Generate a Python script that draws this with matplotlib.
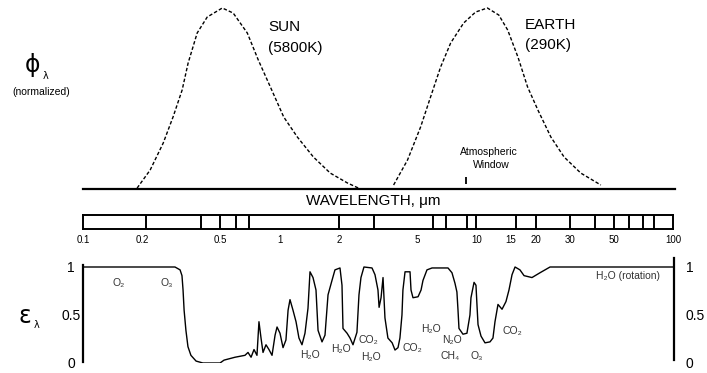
import matplotlib
matplotlib.use("Agg")
import matplotlib.pyplot as plt
from matplotlib.ticker import NullLocator, FixedLocator

plt.rcParams["font.family"] = ["Liberation Sans", "DejaVu Sans"]

W, H = 707, 373

# ---------------------------------------------------------------------------
# Data (wavelength in um)
# ---------------------------------------------------------------------------

sun_wl = [0.188, 0.219, 0.255, 0.286, 0.318, 0.341, 0.379, 0.426, 0.508, 0.577,
          0.680, 0.773, 0.890, 1.04, 1.22, 1.47, 1.79, 2.19, 2.49]
sun_phi = [0.005, 0.105, 0.254, 0.398, 0.547, 0.696, 0.862, 0.950, 1.0, 0.972,
           0.862, 0.713, 0.564, 0.398, 0.287, 0.177, 0.088, 0.033, 0.005]

earth_wl = [3.75, 4.41, 5.14, 5.77, 6.49, 7.30, 8.49, 9.77, 11.2, 12.8,
            14.2, 16.0, 17.9, 20.2, 23.5, 27.4, 33.3, 42.1]
earth_phi = [0.022, 0.160, 0.343, 0.508, 0.674, 0.807, 0.917, 0.978, 1.0, 0.961,
             0.878, 0.729, 0.564, 0.436, 0.287, 0.177, 0.088, 0.022]

window_wl = 8.7

band_edges = [0.21, 0.4, 0.5, 0.6, 0.7, 2, 3, 6, 7, 9, 10, 16, 20, 30, 40, 50, 60, 70, 80]
wl_ticks = [0.1, 0.2, 0.5, 1, 2, 5, 10, 15, 20, 30, 50, 100]
wl_tick_labels = ["0.1", "0.2", "0.5", "1", "2", "5", "10", "15", "20", "30", "50", "100"]

eps_wl = [0.1, 0.293, 0.311, 0.318, 0.322, 0.326, 0.333, 0.341, 0.353, 0.375,
          0.406, 0.496, 0.520, 0.591, 0.664, 0.688, 0.713, 0.738, 0.764, 0.782,
          0.801, 0.820, 0.849, 0.879, 0.911, 0.944, 0.966, 1.0, 1.036, 1.072,
          1.099, 1.124, 1.164, 1.206, 1.248, 1.293, 1.339, 1.387, 1.420, 1.471,
          1.523, 1.560, 1.634, 1.692, 1.753, 1.836, 1.901, 2.016, 2.064, 2.088,
          2.190, 2.267, 2.347, 2.458, 2.517, 2.576, 2.668, 2.931, 3.035, 3.143,
          3.184, 3.258, 3.334, 3.41, 3.53, 3.71, 3.835, 3.972, 4.062, 4.16,
          4.207, 4.312, 4.571, 4.624, 4.732, 5.02, 5.20, 5.318, 5.572, 5.913,
          7.125, 7.464, 7.731, 7.907, 8.009, 8.10, 8.488, 8.89, 9.209, 9.32,
          9.66, 9.88, 10.0, 10.12, 10.48, 10.98, 11.64, 12.05, 12.34, 12.78,
          13.40, 14.03, 14.53, 15.06, 15.60, 16.52, 17.33, 19.01, 20.88, 23.48,
          100]
eps_val = [1.0, 1.0, 0.97, 0.91, 0.76, 0.55, 0.34, 0.17, 0.08, 0.02,
           0.0, 0.0, 0.03, 0.06, 0.08, 0.11, 0.06, 0.14, 0.08, 0.43,
           0.26, 0.11, 0.19, 0.14, 0.08, 0.29, 0.375, 0.31, 0.16, 0.24,
           0.55, 0.66, 0.55, 0.43, 0.26, 0.19, 0.31, 0.57, 0.95, 0.89,
           0.76, 0.34, 0.22, 0.29, 0.71, 0.86, 0.97, 0.99, 0.81, 0.36,
           0.31, 0.26, 0.19, 0.32, 0.71, 0.89, 1.0, 0.99, 0.92, 0.76,
           0.58, 0.68, 0.89, 0.47, 0.26, 0.21, 0.135, 0.16, 0.26, 0.50,
           0.76, 0.95, 0.95, 0.76, 0.68, 0.69, 0.76, 0.86, 0.97, 0.99,
           0.99, 0.94, 0.83, 0.74, 0.55, 0.36, 0.30, 0.31, 0.50, 0.68,
           0.84, 0.81, 0.60, 0.40, 0.28, 0.21, 0.22, 0.26, 0.43, 0.61,
           0.56, 0.64, 0.76, 0.92, 1.0, 0.97, 0.91, 0.89, 0.94, 1.0,
           1.0]

gas_names = ["O₂", "O₃", "H₂O", "H₂O", "CO₂", "H₂O", "CO₂", "H₂O",
             "N₂O", "CH₄", "O₃", "CO₂", "H₂O (rotation)"]
gas_wl = [0.151, 0.267, 1.42, 2.04, 2.80, 2.90, 4.68, 5.84, 7.46, 7.30, 10.0, 15.06, 58.4]
gas_eps = [0.83, 0.83, 0.08, 0.15, 0.24, 0.06, 0.16, 0.35, 0.24, 0.07, 0.07, 0.33, 0.91]


def fig_xy(x, y):
    """Pixel position (from top-left) to figure fraction."""
    return x / W, 1 - y / H


fig = plt.figure(figsize=(W / 100, H / 100), dpi=100)

# ---------------------------------------------------------------------------
# Top: normalized blackbody curves
# ---------------------------------------------------------------------------
ax_top = fig.add_axes([83 / W, 1 - 189 / H, 592 / W, 190 / H])
ax_top.set_xscale("log")
ax_top.set_xlim(0.1, 100)
ax_top.set_ylim(0, 190 / 181)
ax_top.plot(sun_wl, sun_phi, color="black", lw=1.0, ls=(0, (2.5, 1.5)))
ax_top.plot(earth_wl, earth_phi, color="black", lw=1.0, ls=(0, (2.5, 1.5)))
ax_top.vlines(window_wl, 0.028, 0.066, color="black", lw=1.3)
for side in ["top", "right", "left"]:
    ax_top.spines[side].set_visible(False)
ax_top.spines["bottom"].set_linewidth(1.6)
ax_top.set_xticks([])
ax_top.xaxis.set_minor_locator(NullLocator())
ax_top.set_yticks([])

fig.text(*fig_xy(268, 27), "SUN", fontsize=11, va="center", ha="left")
fig.text(*fig_xy(268, 48), "(5800K)", fontsize=11, va="center", ha="left")
fig.text(*fig_xy(525, 25), "EARTH", fontsize=11, va="center", ha="left")
fig.text(*fig_xy(525, 45), "(290K)", fontsize=11, va="center", ha="left")
fig.text(*fig_xy(489, 152), "Atmospheric", fontsize=7.5, va="center", ha="center")
fig.text(*fig_xy(491, 165), "Window", fontsize=7.5, va="center", ha="center")

# phi_lambda label, upright glyph with a small subscript
fig.text(*fig_xy(33, 65), "ϕ", fontsize=17, va="center", ha="center",
         family="DejaVu Sans")
fig.text(*fig_xy(46, 76), "λ", fontsize=7, va="center", ha="center",
         family="DejaVu Sans")
fig.text(*fig_xy(41, 92), "(normalized)", fontsize=7.5, va="center", ha="center")

fig.text(*fig_xy(373, 201), "WAVELENGTH, μm", fontsize=11, va="center", ha="center")

# ---------------------------------------------------------------------------
# Middle: wavelength scale bar
# ---------------------------------------------------------------------------
ax_bar = fig.add_axes([83 / W, 1 - 229 / H, 590 / W, 14 / H])
ax_bar.set_xscale("log")
ax_bar.set_xlim(0.1, 100)
ax_bar.set_ylim(0, 1)
ax_bar.vlines(band_edges, 0, 1, color="black", lw=1.4)
for side in ax_bar.spines.values():
    side.set_linewidth(1.4)
ax_bar.xaxis.set_major_locator(FixedLocator(wl_ticks))
ax_bar.xaxis.set_minor_locator(NullLocator())
ax_bar.set_xticklabels(wl_tick_labels)
ax_bar.tick_params(axis="x", length=0, pad=4, labelsize=7)
ax_bar.set_yticks([])

# ---------------------------------------------------------------------------
# Bottom: atmospheric emissivity
# ---------------------------------------------------------------------------
ax_eps = fig.add_axes([83 / W, 10 / H, 591 / W, 105.6 / H])
ax_eps.set_xscale("log")
ax_eps.set_xlim(0.1, 100)
ax_eps.set_ylim(0, 1.1)
ax_eps.plot(eps_wl, eps_val, color="black", lw=1.0)

ax_eps.spines["top"].set_visible(False)
ax_eps.spines["bottom"].set_visible(False)
ax_eps.spines["left"].set_bounds(0.01, 1.02)
ax_eps.spines["right"].set_bounds(0.03, 1.09)
ax_eps.spines["left"].set_linewidth(1.6)
ax_eps.spines["right"].set_linewidth(1.6)
ax_eps.set_xticks([])
ax_eps.xaxis.set_minor_locator(NullLocator())

ax_eps.yaxis.set_major_locator(FixedLocator([0, 0.5, 1]))
ax_eps.set_yticklabels(["0", "0.5", "1"])
ax_eps.yaxis.set_minor_locator(FixedLocator([0.5]))
ax_eps.tick_params(axis="y", which="major", length=0, pad=8.6, labelsize=10,
                   labelright=True)
ax_eps.tick_params(axis="y", which="minor", direction="in", length=7, width=1.4)
for lbl in ax_eps.get_yticklabels():
    lbl.set_ha("center")
for tick in ax_eps.yaxis.get_major_ticks():
    tick.label2.set_ha("left")

for name, wl, ev in zip(gas_names, gas_wl, gas_eps):
    ax_eps.text(wl, ev, name, fontsize=7.5, color="#333333", ha="center", va="center")

# epsilon_lambda label
fig.text(*fig_xy(25, 316), "ε", fontsize=17, va="center", ha="center",
         family="DejaVu Sans")
fig.text(*fig_xy(37, 325), "λ", fontsize=7, va="center", ha="center",
         family="DejaVu Sans")

fig.savefig("out.png", dpi=100)
